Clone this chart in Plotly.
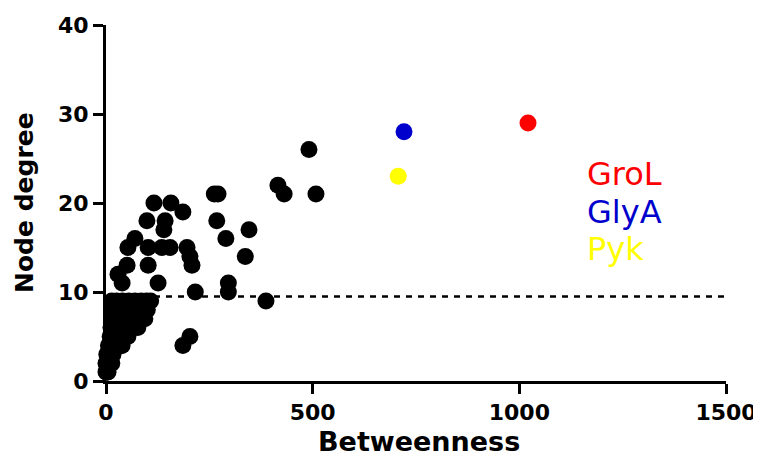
import plotly.graph_objects as go

# Black points: betweenness (x) and node degree (y)
black_x = [
    0, 1, 3, 5,
    0, 2, 5, 10, 14,
    2, 5, 9, 13, 17,
    6, 12, 20, 28, 36, 39,
    10, 18, 28, 38, 48, 53,
    12, 22, 33, 45, 58, 70, 77,
    14, 25, 38, 52, 66, 80, 94,
    15, 28, 42, 56, 70, 85, 100,
    14, 26, 40, 55, 70, 85, 98, 108,
    116, 157, 186, 99, 143, 140, 70, 53, 102, 135, 155, 196, 203, 208, 102, 51,
    29, 39, 126, 262, 271, 268, 290, 346, 337, 296, 296, 216, 387, 186, 203,
    491, 416, 431, 508,
]
black_y = [
    1, 1, 1, 1,
    2, 2, 2, 2, 2,
    3, 3, 3, 3, 3,
    4, 4, 4, 4, 4, 4,
    5, 5, 5, 5, 5, 5,
    6, 6, 6, 6, 6, 6, 6,
    7, 7, 7, 7, 7, 7, 7,
    8, 8, 8, 8, 8, 8, 8,
    9, 9, 9, 9, 9, 9, 9, 9,
    20, 20, 19, 18, 18, 17, 16, 15, 15, 15, 15, 15, 14, 13, 13, 13,
    12, 11, 11, 21, 21, 18, 16, 17, 14, 11, 10, 10, 9, 4, 5,
    26, 22, 21, 21,
]

# Highlighted proteins
hub_names = ["GroL", "GlyA", "Pyk"]
hub_x = [1021, 721, 707]
hub_y = [29, 28, 23]
hub_colors = ["#ff0000", "#0000cc", "#ffff00"]

# Label positions (data units)
label_x = [1160, 1160, 1160]
label_y = [23.3, 19.0, 14.8]

threshold = 9.5
x_range = [0, 1500]
y_range = [0, 40]
x_ticks = [0, 500, 1000, 1500]
y_ticks = [0, 10, 20, 30, 40]
x_title = "Betweenness"
y_title = "Node degree"

fig = go.Figure()

fig.add_trace(go.Scatter(
    x=x_range, y=[threshold, threshold], mode="lines",
    line=dict(color="black", width=2.5, dash="6px,6px"),
    hoverinfo="skip", showlegend=False, cliponaxis=False,
))

fig.add_trace(go.Scatter(
    x=black_x, y=black_y, mode="markers",
    marker=dict(color="black", size=17, line=dict(width=0)),
    showlegend=False, cliponaxis=False,
))

fig.add_trace(go.Scatter(
    x=hub_x, y=hub_y, mode="markers",
    marker=dict(color=hub_colors, size=17, line=dict(width=0)),
    text=hub_names, showlegend=False, cliponaxis=False,
))

for name, lx, ly, c in zip(hub_names, label_x, label_y, hub_colors):
    fig.add_annotation(
        x=lx, y=ly, xref="x", yref="y", text=name, showarrow=False,
        xanchor="left", yanchor="middle",
        font=dict(family="DejaVu Sans", size=32, color=c),
    )

# Axis titles
fig.add_annotation(
    x=0.5, y=0, xref="paper", yref="paper", text=x_title, showarrow=False,
    xanchor="center", yanchor="bottom", yshift=-77, xshift=3, borderpad=0,
    font=dict(family="DejaVu Sans", size=27, color="black", weight="bold"),
)
fig.add_annotation(
    x=0, y=0.5, xref="paper", yref="paper", text=y_title, showarrow=False,
    xanchor="center", yanchor="middle", xshift=-82, textangle=-90,
    font=dict(family="DejaVu Sans", size=25, color="black", weight="bold"),
)

tick_font = dict(family="DejaVu Sans", size=22, color="black", weight="bold")

# The page places the figure 8 px in from the top-left corner.
fig.update_layout(
    width=753, height=451,
    margin=dict(l=98, r=35, t=17, b=78),
    paper_bgcolor="white", plot_bgcolor="white",
    showlegend=False,
    xaxis=dict(
        range=x_range, tickvals=x_ticks, ticktext=[str(v) for v in x_ticks],
        showgrid=False, zeroline=False, automargin=False,
        showline=True, linecolor="black", linewidth=3,
        ticks="outside", ticklen=10, tickwidth=3, tickcolor="black",
        tickfont=tick_font,
    ),
    yaxis=dict(
        range=y_range, tickvals=y_ticks, ticktext=[str(v) for v in y_ticks],
        showgrid=False, zeroline=False, automargin=False,
        showline=True, linecolor="black", linewidth=3,
        ticks="outside", ticklen=10, tickwidth=3, tickcolor="black",
        tickfont=tick_font,
    ),
)

fig.write_html("out.html")
